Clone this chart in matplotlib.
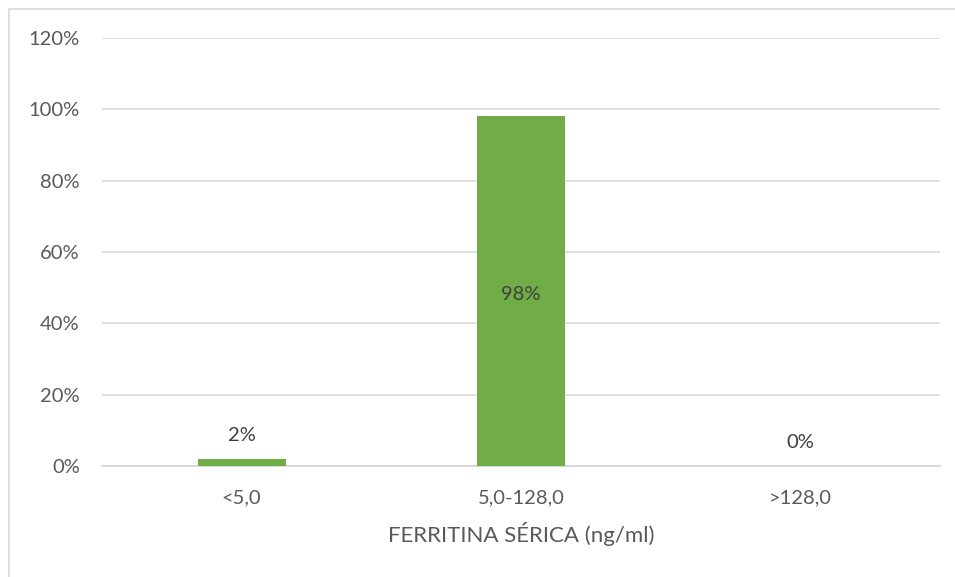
import matplotlib.pyplot as plt
from matplotlib.patches import Rectangle

categories = ["<5,0", "5,0-128,0", ">128,0"]
values = [2, 98, 0]
yticks = [0, 20, 40, 60, 80, 100, 120]

GREEN = "#70AD47"
TEXT = "#595959"
GRID = "#D9D9D9"

plt.rcParams['font.family'] = ['Lato', 'DejaVu Sans']

fig = plt.figure(figsize=(9.55, 5.77), dpi=100)
ax = fig.add_axes([0.1068, 0.1924, 0.8772, 0.7418])

x = range(len(categories))
bars = ax.bar(x, values, width=0.315, color=GREEN, zorder=3)

ax.set_xlim(-0.5, 2.5)
ax.set_ylim(0, 120)
ax.set_yticks(yticks)
ax.set_yticklabels([f"{v}%" for v in yticks])
ax.set_xticks(list(x))
ax.set_xticklabels(categories)
ax.tick_params(length=0, labelsize=14.5, colors=TEXT)
ax.tick_params(axis='y', pad=16)
ax.tick_params(axis='x', pad=17)
ax.grid(axis='y', color=GRID, linewidth=1.2, zorder=0)
for side in ['top', 'right', 'left']:
    ax.spines[side].set_visible(False)
ax.spines['bottom'].set_color(GRID)
ax.spines['bottom'].set_linewidth(1.5)

ax.set_xlabel("FERRITINA SÉRICA (ng/ml)", fontsize=16, color=TEXT, labelpad=11)

# value labels: inside the tall bar, above the short ones
for i, v in enumerate(values):
    if v > 20:
        ax.text(i, v / 2 - 1, f"{v}%", ha='center', va='center', fontsize=14.5, color="#404040", zorder=4)
    else:
        ax.text(i, v + 6.5, f"{v}%", ha='center', va='center', fontsize=14.5, color="#404040", zorder=4)

# chart frame, open past the right and bottom edges
fig.patches.append(Rectangle((9 / 955, -0.1), 1.1, 1.1 - 9 / 577, transform=fig.transFigure,
                             fill=False, edgecolor=GRID, linewidth=1.2))

fig.savefig("out.png", dpi=100)
